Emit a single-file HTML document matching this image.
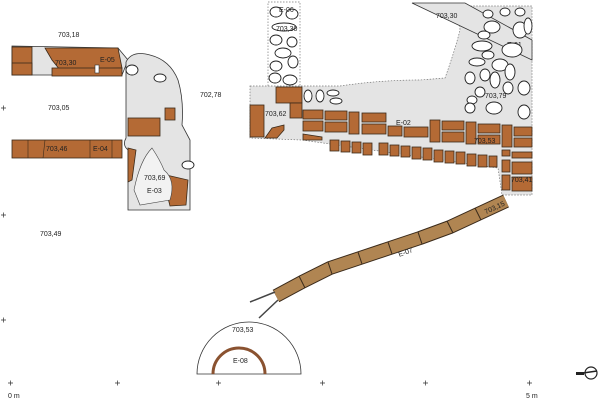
<!DOCTYPE html>
<html><head><meta charset="utf-8"><style>
body{margin:0;background:#fff}
svg{display:block}
text{font-family:"Liberation Sans",sans-serif;font-size:7px;fill:#222}
.b{fill:#b46a35;stroke:#3a2a1a;stroke-width:.8}
.g{fill:#e4e4e4}
.s{fill:#fff;stroke:#222;stroke-width:.9}
</style></head><body>
<svg width="600" height="400" viewBox="0 0 600 400" xmlns="http://www.w3.org/2000/svg">
<!-- left top wall -->
<polygon points="12,46 118,48 128,60 122,75 12,75" class="g" stroke="#333" stroke-width=".8"/>
<rect x="12" y="47" width="20" height="28" class="b"/>
<rect x="12" y="63" width="20" height="12" class="b"/>
<polygon points="45,48 118,48 122,68 60,70 52,60" class="b"/>
<rect x="52" y="68" width="70" height="8" class="b"/>
<rect x="95" y="65" width="4" height="8" fill="#fff" stroke="#333" stroke-width=".6"/>
<text x="58" y="37">703,18</text><text x="55" y="65">703,30</text><text x="100" y="62">E-05</text>
<text x="48" y="110">703,05</text>
<!-- left lower wall -->
<rect x="12" y="140" width="110" height="18" class="b"/>
<line x1="28" y1="140" x2="28" y2="158" stroke="#3a2a1a" stroke-width=".6"/>
<line x1="45" y1="140" x2="43" y2="158" stroke="#3a2a1a" stroke-width=".6"/>
<line x1="90" y1="140" x2="90" y2="158" stroke="#3a2a1a" stroke-width=".6"/>
<line x1="112" y1="140" x2="112" y2="158" stroke="#3a2a1a" stroke-width=".6"/>
<text x="46" y="151">703,46</text><text x="93" y="151">E-04</text>
<!-- central gray blob -->
<path d="M126,62 Q132,50 150,55 Q170,60 178,80 Q184,100 182,125 L190,140 L190,210 L128,210 L128,150 Q122,145 126,138 Z" class="g" stroke="#333" stroke-width=".8"/>
<rect x="128" y="118" width="32" height="18" class="b"/>
<rect x="165" y="108" width="10" height="12" class="b"/>
<polygon points="128,148 136,150 132,180 128,182" class="b"/>
<polygon points="162,174 188,180 186,205 170,206" class="b"/>
<path d="M134,190 Q140,160 152,148 Q160,160 164,170 Q176,180 170,200 L140,205 Z" fill="#f2f2f2" stroke="#444" stroke-width=".6"/>
<ellipse cx="132" cy="70" rx="6" ry="5" class="s"/><ellipse cx="160" cy="78" rx="6" ry="4" class="s"/>
<ellipse cx="188" cy="165" rx="6" ry="4" class="s"/>
<text x="144" y="180">703,69</text><text x="147" y="193">E-03</text>
<text x="200" y="97">702,78</text>
<text x="40" y="236">703,49</text>
<!-- stone column -->
<rect x="268" y="2" width="32" height="85" fill="#fff" stroke="#777" stroke-width=".7" stroke-dasharray="1.5,1.5"/>
<g class="s">
<ellipse cx="276" cy="12" rx="6" ry="5"/><ellipse cx="292" cy="14" rx="6" ry="5"/>
<ellipse cx="284" cy="27" rx="12" ry="4"/><ellipse cx="276" cy="40" rx="6" ry="5"/><ellipse cx="292" cy="42" rx="5" ry="5"/>
<ellipse cx="283" cy="53" rx="8" ry="5"/><ellipse cx="276" cy="66" rx="6" ry="5"/><ellipse cx="293" cy="62" rx="5" ry="6"/>
<ellipse cx="275" cy="78" rx="6" ry="5"/><ellipse cx="290" cy="80" rx="7" ry="5"/></g>
<text x="279" y="12">E-06</text><text x="276" y="31">703,30</text>
<!-- main gray area -->
<path d="M250,86 L340,86 Q380,80 420,80 L445,78 Q455,50 460,30 L458,6 L532,6 L532,195 L502,195 L498,168 L302,140 L250,138 Z" class="g" stroke="#777" stroke-width=".7" stroke-dasharray="1.5,1.5"/>
<polygon points="412,3 465,3 532,40 532,60" class="g" stroke="#333" stroke-width=".8"/>
<text x="436" y="18">703,30</text><text x="507" y="47">E-01</text>
<g class="s">
<ellipse cx="488" cy="14" rx="5" ry="4"/><ellipse cx="505" cy="12" rx="5" ry="4"/><ellipse cx="520" cy="12" rx="5" ry="4"/>
<ellipse cx="492" cy="27" rx="8" ry="6"/><ellipse cx="520" cy="30" rx="7" ry="8"/>
<ellipse cx="512" cy="50" rx="10" ry="7"/><ellipse cx="528" cy="26" rx="4" ry="8"/>
<ellipse cx="484" cy="35" rx="6" ry="4"/><ellipse cx="488" cy="55" rx="6" ry="4"/>
<ellipse cx="482" cy="46" rx="10" ry="5"/><ellipse cx="477" cy="62" rx="8" ry="4"/>
<ellipse cx="500" cy="65" rx="8" ry="6"/><ellipse cx="495" cy="80" rx="5" ry="8"/><ellipse cx="510" cy="72" rx="5" ry="8"/>
<ellipse cx="470" cy="78" rx="5" ry="6"/><ellipse cx="485" cy="75" rx="5" ry="6"/><ellipse cx="480" cy="92" rx="5" ry="5"/>
<ellipse cx="508" cy="88" rx="5" ry="6"/><ellipse cx="524" cy="88" rx="6" ry="7"/><ellipse cx="472" cy="100" rx="5" ry="4"/>
<ellipse cx="470" cy="108" rx="5" ry="5"/><ellipse cx="494" cy="108" rx="8" ry="6"/><ellipse cx="524" cy="112" rx="6" ry="7"/>
<ellipse cx="308" cy="96" rx="4" ry="6"/><ellipse cx="320" cy="96" rx="4" ry="6"/><ellipse cx="333" cy="93" rx="6" ry="3"/><ellipse cx="336" cy="101" rx="6" ry="3"/>
</g>
<text x="485" y="98">703,79</text>
<!-- 703,62 box -->
<rect x="250" y="105" width="14" height="32" class="b"/>
<rect x="276" y="87" width="26" height="16" class="b"/>
<rect x="290" y="103" width="12" height="15" class="b"/>
<polygon points="265,138 272,128 284,125 284,130 277,138" class="b"/>
<text x="265" y="116">703,62</text>
<!-- brick band -->
<g class="b">
<rect x="303" y="110" width="20" height="9"/><rect x="325" y="111" width="22" height="9"/><rect x="349" y="112" width="10" height="22"/><rect x="362" y="113" width="24" height="9"/>
<rect x="303" y="121" width="20" height="10"/><rect x="325" y="122" width="22" height="10"/><rect x="362" y="124" width="24" height="10"/><rect x="388" y="126" width="14" height="10"/><rect x="404" y="127" width="24" height="10"/>
<rect x="430" y="120" width="10" height="22"/><rect x="442" y="121" width="22" height="9"/><rect x="442" y="132" width="22" height="10"/><rect x="466" y="122" width="10" height="22"/>
<rect x="478" y="124" width="22" height="9"/><rect x="478" y="135" width="22" height="9"/><rect x="502" y="125" width="10" height="22"/><rect x="514" y="127" width="18" height="9"/><rect x="514" y="138" width="18" height="9"/>
<polygon points="303,134 322,137 322,140 303,140"/>
<rect x="330" y="140" width="9" height="11"/><rect x="341" y="141" width="9" height="11"/><rect x="352" y="142" width="9" height="11"/><rect x="363" y="143" width="9" height="12"/>
<rect x="379" y="143" width="9" height="12"/><rect x="390" y="145" width="9" height="11"/><rect x="401" y="146" width="9" height="11"/><rect x="412" y="147" width="9" height="12"/>
<rect x="423" y="148" width="9" height="12"/><rect x="434" y="150" width="9" height="12"/><rect x="445" y="151" width="9" height="12"/><rect x="456" y="152" width="9" height="12"/>
<rect x="467" y="154" width="9" height="12"/><rect x="478" y="155" width="9" height="12"/><rect x="489" y="156" width="8" height="11"/>
<rect x="502" y="150" width="8" height="6"/><rect x="502" y="160" width="8" height="12"/><rect x="502" y="175" width="8" height="15"/>
<rect x="512" y="152" width="20" height="6"/><rect x="512" y="162" width="20" height="12"/><rect x="512" y="177" width="20" height="14"/>
</g>
<text x="396" y="125">E-02</text><text x="474" y="143">703,53</text><text x="511" y="182">703,41</text>
<!-- pipe E-07 -->
<polyline points="506,201 478,214 450,227 420,238 390,248 360,258 330,268 302,282 276,296" fill="none" stroke="#3a2a1a" stroke-width="14" stroke-linejoin="round"/>
<polyline points="506,201 478,214 450,227 420,238 390,248 360,258 330,268 302,282 276,296" fill="none" stroke="#b08552" stroke-width="12" stroke-linejoin="round"/>
<g stroke="#3a2a1a" stroke-width="1">
<line x1="475" y1="208" x2="481" y2="220"/><line x1="447" y1="221" x2="453" y2="233"/>
<line x1="418" y1="232" x2="422" y2="244"/><line x1="388" y1="242" x2="392" y2="254"/>
<line x1="358" y1="252" x2="362" y2="264"/><line x1="328" y1="262" x2="332" y2="274"/>
<line x1="299" y1="276" x2="305" y2="288"/>
</g>
<line x1="275" y1="292" x2="250" y2="302" stroke="#444" stroke-width="1.5"/>
<line x1="278" y1="300" x2="259" y2="318" stroke="#444" stroke-width="1.5"/>
<text x="398" y="255" transform="rotate(-20 404 252)">E-07</text>
<text x="484" y="212" transform="rotate(-25 490 209)">703,15</text>
<!-- semicircle E-08 -->
<path d="M197,374 A52,52 0 0 1 301,374 Z" fill="#fff" stroke="#333" stroke-width=".8"/>
<path d="M213,374 A26,26 0 0 1 265,374" fill="none" stroke="#8a5230" stroke-width="3"/>
<text x="232" y="332">703,53</text><text x="233" y="363">E-08</text>
<!-- grid crosses -->
<g stroke="#333" stroke-width=".7">
<path d="M8,383h5M10.5,380.5v5M115,383h5M117.5,380.5v5M216,383h5M218.5,380.5v5M320,383h5M322.5,380.5v5M423,383h5M425.5,380.5v5M527,383h5M529.5,380.5v5"/>
<path d="M1,108h5M3.5,105.5v5M1,215h5M3.5,212.5v5M1,320h5M3.5,317.5v5"/>
</g>
<text x="8" y="398">0 m</text><text x="526" y="398">5 m</text>
<!-- compass -->
<circle cx="591" cy="373" r="6" fill="#fff" stroke="#222" stroke-width="1.2"/>
<line x1="576" y1="374" x2="597" y2="371" stroke="#222" stroke-width="1.4"/>
<rect x="576" y="372" width="8" height="3" fill="#222"/>
</svg>
</body></html>
